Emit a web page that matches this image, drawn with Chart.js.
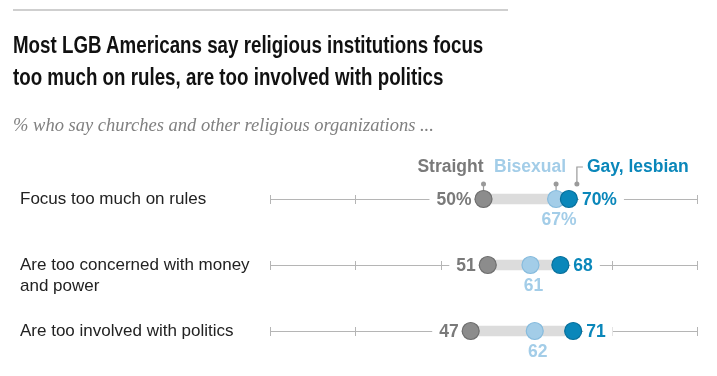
<!DOCTYPE html>
<html>
<head>
<meta charset="utf-8">
<script src="https://cdn.jsdelivr.net/npm/chart.js@4/dist/chart.umd.min.js"></script>
<style>
  body { margin: 0; background: #fff; }
  #wrap { position: relative; width: 717px; height: 376px; overflow: hidden; }
  #rule { position: absolute; left: 13px; top: 9px; width: 495px; height: 2px; background: #cfcfcf; }
  #title { position: absolute; left: 13px; top: 29px; font: bold 23.5px "Liberation Sans", Arial, sans-serif; line-height: 32px; color: #111; white-space: nowrap; }
  #title span { display: block; transform-origin: 0 50%; }
  #sub { position: absolute; left: 13px; top: 113px; font: italic 18.5px "Liberation Serif", "DejaVu Serif", serif; line-height: 24px; color: #808080; white-space: nowrap; }
  canvas { position: absolute; left: 0; top: 0; }
</style>
</head>
<body>
<div id="wrap">
  <canvas id="chart" width="717" height="376"></canvas>
  <div id="rule"></div>
  <div id="title"><span id="t1">Most LGB Americans say religious institutions focus</span><span id="t2">too much on rules, are too involved with politics</span></div>
  <div id="sub">% who say churches and other religious organizations ...</div>
</div>
<script>
// rows, top to bottom
const categories = [
  ['Focus too much on rules'],
  ['Are too concerned with money', 'and power'],
  ['Are too involved with politics']
];
const straight = [50, 51, 47];
const bisexual = [67, 61, 62];
const gay = [70, 68, 71];
const seriesNames = ['Straight', 'Bisexual', 'Gay, lesbian'];
const axisTicks = [0, 20, 40, 60, 80, 100];

const cGray = '#8c8c8c', cGrayText = '#7a7a7a';
const cBi = '#a3cde8', cBiText = '#a3cde8';
const cGay = '#0a87ba', cGayText = '#0a87ba';

const valueFont = 'bold 17.5px "Liberation Sans", Arial, sans-serif';
const nameFont = 'bold 17.5px "Liberation Sans", Arial, sans-serif';

// the title face is a condensed one, squeeze the regular bold to the same width
(function () {
  const m = document.createElement('canvas').getContext('2d');
  m.font = 'bold 23.5px "Liberation Sans", Arial, sans-serif';
  const k = 471 / m.measureText(document.getElementById('t1').textContent).width;
  ['t1', 't2'].forEach(id => document.getElementById(id).style.transform = 'scaleX(' + k + ')');
})();

// thin axis line behind each row, plus white gaps where value labels sit
const axisPlugin = {
  id: 'rowAxes',
  beforeDatasetsDraw(chart) {
    const ctx = chart.ctx, xs = chart.scales.x, ys = chart.scales.y;
    ctx.save();
    categories.forEach((c, i) => {
      const y = ys.getPixelForValue(i);
      ctx.strokeStyle = '#b5b5b5';
      ctx.lineWidth = 1;
      ctx.beginPath();
      ctx.moveTo(xs.getPixelForValue(0), y + 0.5);
      ctx.lineTo(xs.getPixelForValue(100), y + 0.5);
      axisTicks.forEach(t => {
        const x = Math.round(xs.getPixelForValue(t)) + 0.5;
        ctx.moveTo(x, y - 4);
        ctx.lineTo(x, y + 5);
      });
      ctx.stroke();

      // clear room for the end labels
      ctx.font = valueFont;
      const pct = i === 0 ? '%' : '';
      const lo = straight[i] + pct, hi = gay[i] + pct;
      const xl = xs.getPixelForValue(straight[i]) - 12;
      const wl = ctx.measureText(lo).width;
      ctx.fillStyle = '#fff';
      ctx.fillRect(xl - wl - 7, y - 10, wl + 10, 20);
      const xr = xs.getPixelForValue(gay[i]) + 13;
      const wr = ctx.measureText(hi).width;
      ctx.fillRect(xr - 3, y - 10, wr + 10, 20);
    });
    ctx.restore();
  },
  afterDatasetsDraw(chart) {
    const ctx = chart.ctx, xs = chart.scales.x, ys = chart.scales.y;
    ctx.save();
    // row labels
    ctx.fillStyle = '#222';
    ctx.font = '17px "Liberation Sans", Arial, sans-serif';
    ctx.textAlign = 'left';
    ctx.textBaseline = 'middle';
    categories.forEach((lines, i) => {
      const y = ys.getPixelForValue(i);
      lines.forEach((l, k) => ctx.fillText(l, 20, y + k * 21));
    });

    // value labels
    ctx.font = valueFont;
    categories.forEach((c, i) => {
      const y = ys.getPixelForValue(i) + 1;
      const pct = i === 0 ? '%' : '';
      ctx.textAlign = 'right';
      ctx.fillStyle = cGrayText;
      ctx.fillText(straight[i] + pct, xs.getPixelForValue(straight[i]) - 12, y);
      ctx.textAlign = 'left';
      ctx.fillStyle = cGayText;
      ctx.fillText(gay[i] + pct, xs.getPixelForValue(gay[i]) + 13, y);
      ctx.textAlign = 'center';
      ctx.fillStyle = cBiText;
      ctx.fillText(bisexual[i] + pct, xs.getPixelForValue(bisexual[i]) + 3, y + 20);
    });

    // series names with leader lines over the first row
    const y0 = ys.getPixelForValue(0);
    const ly = y0 - 32;
    const xS = xs.getPixelForValue(straight[0]);
    const xB = xs.getPixelForValue(bisexual[0]);
    const xG = xs.getPixelForValue(gay[0]);
    ctx.font = nameFont;
    ctx.textAlign = 'right';
    ctx.fillStyle = cGrayText;
    ctx.fillText(seriesNames[0], xS, ly);
    ctx.fillStyle = cBiText;
    ctx.fillText(seriesNames[1], xB + 10, ly);
    ctx.textAlign = 'left';
    ctx.fillStyle = cGayText;
    ctx.fillText(seriesNames[2], xG + 18, ly);

    ctx.strokeStyle = '#9a9a9a';
    ctx.fillStyle = '#9a9a9a';
    ctx.lineWidth = 1.2;
    const knob = y0 - 15;
    [xS, xB].forEach(x => {
      ctx.beginPath();
      ctx.moveTo(x, knob);
      ctx.lineTo(x, y0 - 9);
      ctx.stroke();
      ctx.beginPath();
      ctx.arc(x, knob, 2.5, 0, Math.PI * 2);
      ctx.fill();
    });
    const xk = xG + 8;
    ctx.beginPath();
    ctx.moveTo(xk, knob);
    ctx.lineTo(xk, ly);
    ctx.lineTo(xk + 6, ly);
    ctx.stroke();
    ctx.beginPath();
    ctx.arc(xk, knob, 2.5, 0, Math.PI * 2);
    ctx.fill();
    ctx.restore();
  }
};

const dot = (label, data, fill, border, order) => ({
  type: 'line',
  label: label,
  data: data,
  indexAxis: 'y',
  showLine: false,
  pointRadius: 8.5,
  pointHoverRadius: 8.5,
  pointBackgroundColor: fill,
  pointBorderColor: border,
  pointBorderWidth: 1.2,
  order: order
});

new Chart(document.getElementById('chart'), {
  type: 'bar',
  data: {
    labels: categories.map(c => c.join(' ')),
    datasets: [
      {
        label: 'range',
        data: straight.map((s, i) => [s, gay[i]]),
        indexAxis: 'y',
        backgroundColor: '#dcdcdc',
        barThickness: 10,
        order: 4
      },
      dot(seriesNames[0], straight, cGray, '#6e6e6e', 3),
      dot(seriesNames[1], bisexual, cBi, '#86bbdd', 2),
      dot(seriesNames[2], gay, cGay, '#07709c', 1)
    ]
  },
  options: {
    indexAxis: 'y',
    responsive: false,
    animation: false,
    events: [],
    layout: { padding: { left: 270, right: 20, top: 166, bottom: 12 } },
    scales: {
      x: { type: 'linear', min: 0, max: 100, display: false },
      y: { type: 'category', display: false, offset: true }
    },
    plugins: { legend: { display: false }, tooltip: { enabled: false } }
  },
  plugins: [axisPlugin]
});
</script>
</body>
</html>
